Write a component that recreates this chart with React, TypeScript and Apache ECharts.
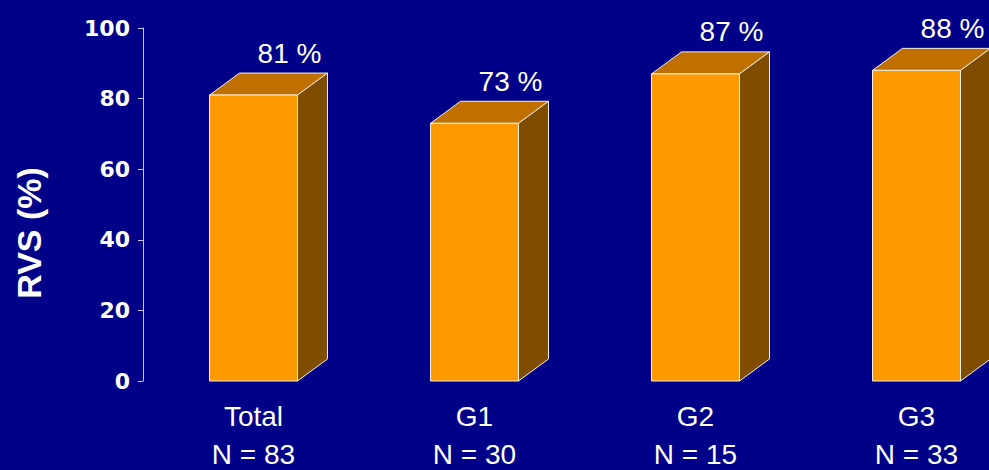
import React, { useEffect, useRef } from "react";
import * as echarts from "echarts";

// Groups, their sizes and the share of patients with RVS in each
const categories = ["Total", "G1", "G2", "G3"];
const groupSizes = [83, 30, 15, 33];
const rvsPercent = [81, 73, 87, 88];
const yTicks = { min: 0, max: 100, step: 20 };

// Box drawing parameters
const BAR_W = 88;
const DEPTH_X = 30;
const DEPTH_Y = 22;
const FRONT = "#FF9900";
const TOP = "#BF7000";
const SIDE = "#7F4C00";
const EDGE = "#F4F0E4";
const BG = "#000088";
const SANS = "'Liberation Sans', Arial, sans-serif";

export default function App() {
  const ref = useRef<HTMLDivElement>(null);

  useEffect(() => {
    if (!ref.current) return;
    const chart = echarts.init(ref.current, undefined, { renderer: "svg" });

    const data = rvsPercent.map((v, i) => [i, v]);

    chart.setOption({
      animation: false,
      backgroundColor: BG,
      grid: {
        left: 143,
        top: 28,
        bottom: 89,
        width: 884,
        containLabel: false,
        outerBoundsMode: "none",
      },
      xAxis: {
        type: "category",
        data: categories,
        axisLine: { show: false },
        axisTick: { show: false },
        axisLabel: {
          color: "#FFFFFF",
          fontFamily: SANS,
          fontSize: 28,
          lineHeight: 38,
          margin: 16,
          formatter: (value: string, idx: number) => `${value}\nN = ${groupSizes[idx]}`,
        },
      },
      yAxis: {
        type: "value",
        min: yTicks.min,
        max: yTicks.max,
        interval: yTicks.step,
        splitLine: { show: false },
        axisLine: { show: true, lineStyle: { color: "#C8C8EC", width: 1 } },
        axisTick: { show: true, length: 5, lineStyle: { color: "#C8C8EC" } },
        axisLabel: {
          color: "#FFFFFF",
          fontFamily: "'DejaVu Sans', Verdana, sans-serif",
          fontWeight: "bold",
          fontSize: 22,
          margin: 13,
        },
      },
      graphic: [
        {
          type: "text",
          x: 29,
          y: 233,
          rotation: Math.PI / 2,
          style: {
            text: "RVS (%)",
            fill: "#FFFFFF",
            font: `bold 34px ${SANS}`,
            align: "center",
            verticalAlign: "middle",
          },
        },
      ],
      series: [
        {
          type: "custom",
          data,
          encode: { x: 0, y: 1 },
          renderItem: (_params: any, api: any) => {
            const idx = api.value(0);
            const v = api.value(1);
            const [cx, yTop] = api.coord([idx, v]);
            const [, y0] = api.coord([idx, 0]);
            const l = cx - BAR_W / 2;
            const r = cx + BAR_W / 2;
            const edge = { stroke: EDGE, lineWidth: 1 };
            return {
              type: "group",
              children: [
                {
                  type: "polygon",
                  shape: {
                    points: [
                      [l, yTop],
                      [l + DEPTH_X, yTop - DEPTH_Y],
                      [r + DEPTH_X, yTop - DEPTH_Y],
                      [r, yTop],
                    ],
                  },
                  style: { fill: TOP, ...edge },
                },
                {
                  type: "polygon",
                  shape: {
                    points: [
                      [r, yTop],
                      [r + DEPTH_X, yTop - DEPTH_Y],
                      [r + DEPTH_X, y0 - DEPTH_Y],
                      [r, y0],
                    ],
                  },
                  style: { fill: SIDE, ...edge },
                },
                {
                  type: "rect",
                  shape: { x: l, y: yTop, width: BAR_W, height: y0 - yTop },
                  style: { fill: FRONT, ...edge },
                },
                {
                  type: "text",
                  x: cx + 36,
                  y: yTop - DEPTH_Y - 6,
                  style: {
                    text: `${v} %`,
                    fill: "#FFFFFF",
                    font: `28px ${SANS}`,
                    align: "center",
                    verticalAlign: "bottom",
                  },
                },
              ],
            };
          },
        },
      ],
    });

    return () => chart.dispose();
  }, []);

  return (
    <div
      ref={ref}
      style={{ position: "fixed", left: 0, top: 0, width: 989, height: 470 }}
    />
  );
}
